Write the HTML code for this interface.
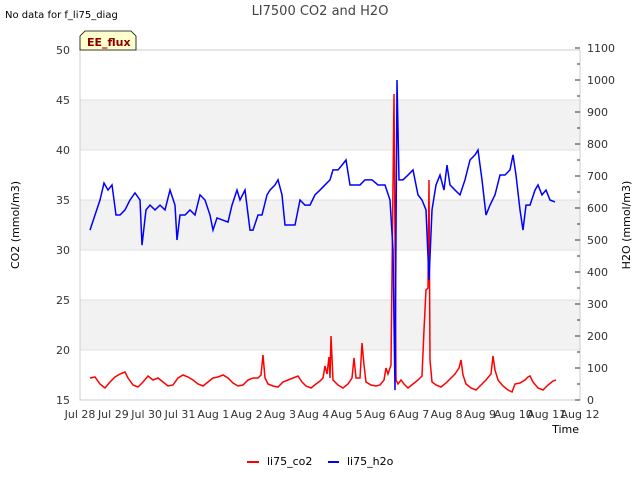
<!DOCTYPE html>
<html><head><meta charset="utf-8"><style>
body{margin:0;background:#fff;font-family:"DejaVu Sans","Liberation Sans",sans-serif;}
svg text{font-family:"DejaVu Sans","Liberation Sans",sans-serif;}
</style></head><body>
<svg id="chart" width="640" height="480" xmlns="http://www.w3.org/2000/svg">
<text x="5" y="18" font-size="10" fill="#000">No data for f_li75_diag</text>
<text x="320" y="15" font-size="13" fill="#444" text-anchor="middle">LI7500 CO2 and H2O</text>
<g id="plot"></g>
<text x="19" y="225" font-size="11" text-anchor="middle" transform="rotate(-90 19 225)">CO2 (mmol/m3)</text>
<text x="630" y="225" font-size="11" text-anchor="middle" transform="rotate(-90 630 225)">H2O (mmol/m3)</text>
<text x="579" y="433" font-size="11" text-anchor="end">Time</text>
<g>
<line x1="247" y1="462" x2="259" y2="462" stroke="#f00" stroke-width="2"/>
<text x="267" y="465" font-size="11">li75_co2</text>
<line x1="328" y1="462" x2="339" y2="462" stroke="#00f" stroke-width="2"/>
<text x="347" y="465" font-size="11">li75_h2o</text>
</g>
<g>
<path d="M80,50 L80,36 L85,31 L131,31 L136,36 L136,50 Z" fill="#ffffcc" stroke="#000" stroke-width="0.8"/>
<text x="87" y="46" font-size="11" font-weight="bold" fill="#8b0000">EE_flux</text>
</g>
</svg>
<script>
const xTickLabels=["Jul 28","Jul 29","Jul 30","Jul 31","Aug 1","Aug 2","Aug 3","Aug 4","Aug 5","Aug 6","Aug 7","Aug 8","Aug 9","Aug 10","Aug 11","Aug 12"];
const co2Ticks=[15,20,25,30,35,40,45,50];
const h2oTicks=[0,100,200,300,400,500,600,700,800,900,1000,1100];
const h2oTime=[0.30,0.45,0.60,0.72,0.84,0.96,1.08,1.20,1.35,1.50,1.65,1.80,1.86,1.98,2.10,2.25,2.40,2.55,2.70,2.85,2.91,3.00,3.15,3.30,3.45,3.60,3.75,3.90,3.99,4.11,4.26,4.44,4.56,4.71,4.80,4.95,5.10,5.19,5.34,5.46,5.61,5.70,5.85,5.94,6.06,6.15,6.30,6.45,6.60,6.75,6.90,7.05,7.20,7.35,7.50,7.59,7.74,7.86,7.98,8.10,8.25,8.40,8.55,8.76,8.94,9.15,9.30,9.39,9.45,9.51,9.57,9.69,9.84,9.99,10.14,10.26,10.38,10.47,10.56,10.68,10.80,10.92,11.01,11.10,11.25,11.40,11.55,11.70,11.85,11.94,12.06,12.18,12.30,12.45,12.60,12.75,12.90,12.99,13.08,13.20,13.29,13.38,13.50,13.65,13.74,13.86,13.98,14.10,14.25];
const h2oValues=[531,578,625,678,656,672,578,578,594,625,647,625,484,594,609,594,609,594,656,609,500,578,578,594,578,641,625,578,531,569,563,556,609,656,625,656,531,531,578,578,641,656,672,688,641,547,547,547,625,609,609,641,656,672,688,719,719,734,750,672,672,672,688,688,672,672,625,469,31,1000,688,688,703,719,641,625,594,375,594,672,703,656,734,672,656,641,688,750,766,781,688,578,609,641,703,703,719,766,703,594,531,609,609,656,672,641,656,625,619];
const co2Time=[0.30,0.45,0.60,0.75,0.90,1.05,1.20,1.35,1.44,1.59,1.74,1.89,2.04,2.19,2.34,2.49,2.64,2.79,2.94,3.09,3.24,3.39,3.54,3.69,3.84,3.99,4.14,4.29,4.44,4.59,4.74,4.89,5.04,5.19,5.34,5.43,5.49,5.55,5.64,5.79,5.94,6.09,6.24,6.39,6.54,6.66,6.78,6.93,7.08,7.20,7.29,7.35,7.41,7.47,7.50,7.53,7.59,7.74,7.89,8.04,8.16,8.22,8.28,8.40,8.46,8.52,8.58,8.73,8.88,9.00,9.12,9.18,9.24,9.33,9.42,9.48,9.54,9.63,9.72,9.84,9.99,10.14,10.26,10.32,10.38,10.44,10.47,10.50,10.56,10.68,10.83,10.98,11.13,11.25,11.37,11.43,11.49,11.58,11.73,11.88,12.03,12.18,12.33,12.39,12.45,12.54,12.69,12.84,12.96,13.05,13.20,13.35,13.44,13.50,13.59,13.74,13.89,14.04,14.19,14.28];
const co2Values=[17.2,17.3,16.6,16.2,16.8,17.3,17.6,17.8,17.2,16.5,16.3,16.8,17.4,17.0,17.2,16.8,16.4,16.5,17.2,17.5,17.3,17.0,16.6,16.4,16.8,17.2,17.3,17.5,17.2,16.7,16.4,16.5,17.0,17.2,17.2,17.5,19.5,17.2,16.6,16.4,16.3,16.8,17.0,17.2,17.4,16.8,16.4,16.2,16.6,16.9,17.2,18.4,17.6,19.3,17.2,21.4,17.0,16.5,16.2,16.6,17.2,19.2,17.2,17.2,20.7,18.5,16.8,16.5,16.4,16.5,17.0,18.2,17.6,18.5,45.6,17.0,16.6,17.0,16.6,16.2,16.6,17.0,17.4,22.0,26.0,26.2,37.0,19.0,16.8,16.5,16.3,16.7,17.2,17.6,18.2,19.0,17.5,16.6,16.2,16.0,16.5,17.0,17.6,19.4,18.0,17.0,16.4,16.0,15.8,16.6,16.7,17.0,17.3,17.4,16.8,16.2,16.0,16.5,16.9,17.0];

const L=80,R=580,T=50,B=400;
const xS=d=>L+d*(R-L)/15;
const yC=v=>B-(v-15)*(B-T)/35;
const yH=v=>B-v*(B-T)/1093.75;
const NS="http://www.w3.org/2000/svg";
const plot=document.getElementById('plot');
function mk(tag,attrs,parent){const e=document.createElementNS(NS,tag);for(const k in attrs)e.setAttribute(k,attrs[k]);(parent||plot).appendChild(e);return e;}
for(let i=0;i<co2Ticks.length-1;i++){
  if(i%2===1){const r=mk('rect',{x:L,y:yC(co2Ticks[i+1]),width:R-L,height:yC(co2Ticks[i])-yC(co2Ticks[i+1]),fill:'#f2f2f2'});
  
  }
}
co2Ticks.forEach(t=>{
  const g=mk('line',{x1:L,x2:R,y1:yC(t),y2:yC(t),stroke:'#e0e0e0','stroke-width':1});
  
  
  const tx=mk('text',{x:L-10,y:yC(t)+4,'font-size':11,'text-anchor':'end',fill:'#333'});tx.textContent=t;
  
  
});
const fr=mk('rect',{x:L,y:T,width:R-L,height:B-T,fill:'none',stroke:'#ccc'});


h2oTicks.forEach(t=>{
  mk('line',{x1:R,x2:R-5,y1:yH(t),y2:yH(t),stroke:'#333'});
  const tx=mk('text',{x:R+7,y:yH(t)+4,'font-size':11,fill:'#333'});tx.textContent=t;
  
  
  if(t<1100) mk('line',{x1:R,x2:R-3,y1:yH(t+50),y2:yH(t+50),stroke:'#333'});
});
xTickLabels.forEach((s,i)=>{
  const tx=mk('text',{x:xS(i),y:B+18,'font-size':11,'text-anchor':'middle',fill:'#333'});tx.textContent=s;
  
  
});
const pc=mk('polyline',{points:co2Time.map((d,i)=>xS(d)+','+yC(co2Values[i])).join(' '),fill:'none',stroke:'#f00','stroke-width':1.5});


const ph=mk('polyline',{points:h2oTime.map((d,i)=>xS(d)+','+yH(h2oValues[i])).join(' '),fill:'none',stroke:'#00f','stroke-width':1.5});


</script>
</body></html>
